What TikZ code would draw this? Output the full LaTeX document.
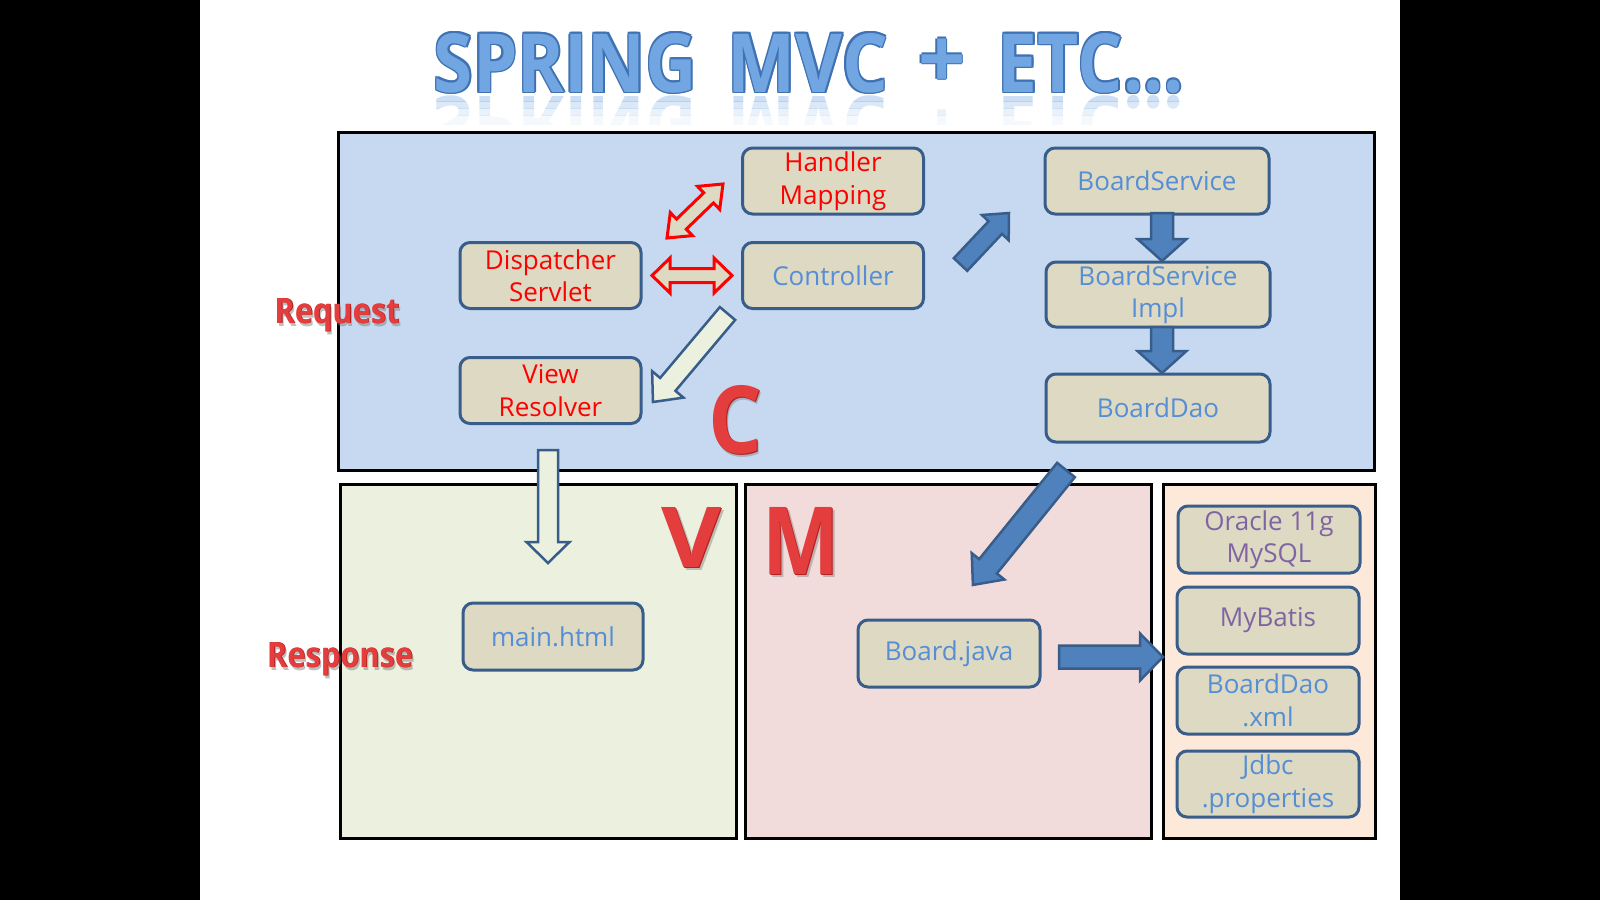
\documentclass[tikz,border=0pt]{standalone}
\usepackage{fontspec}
\setmainfont{Open Sans}
\usepackage{graphicx}
\definecolor{boxblue}{HTML}{C6D9F1}
\definecolor{boxgreen}{HTML}{EBF1DE}
\definecolor{boxpink}{HTML}{F2DCDB}
\definecolor{boxpeach}{HTML}{FDE9D9}
\definecolor{nodefill}{HTML}{DDD9C3}
\definecolor{nodeedge}{HTML}{385D8A}
\definecolor{txtblue}{HTML}{558ED5}
\definecolor{txtred}{HTML}{FF0000}
\definecolor{txtpurple}{HTML}{8064A2}
\definecolor{arrowblue}{HTML}{4F81BD}
\definecolor{lightfill}{HTML}{EBF1DE}
\definecolor{titleblue}{HTML}{72A6E2}
\definecolor{titleedge}{HTML}{3F72B3}
\definecolor{letterred}{HTML}{E33D3D}
\definecolor{letteredge}{HTML}{B52020}
% block arrow: style, x, y, angle, length, half shaft, half head, head length
\newcommand\blockarrow[8]{%
  \draw[#1,shift={(#2,#3)},rotate=#4] (0,-#6) -- ({#5-#8},-#6) -- ({#5-#8},-#7) -- (#5,0)
    -- ({#5-#8},#7) -- ({#5-#8},#6) -- (0,#6) -- cycle;}
\newcommand\dblarrow[8]{%
  \draw[#1,shift={(#2,#3)},rotate=#4] (0,0) -- (#8,-#7) -- (#8,-#6) -- ({#5-#8},-#6) -- ({#5-#8},-#7)
    -- (#5,0) -- ({#5-#8},#7) -- ({#5-#8},#6) -- (#8,#6) -- (#8,#7) -- cycle;}
% title words: text, width
\newcommand\ttlword[2]{\resizebox{#2pt}{59pt}{\bfseries #1}}
\newcommand\ttlplus{{\fontsize{83}{83}\selectfont\bfseries +}}
\begin{document}
\begin{tikzpicture}[x=1pt,y=-1pt,
  region/.style={draw=black,line width=3pt},
  comp/.style={draw=nodeedge,line width=3pt,fill=nodefill,rounded corners=10pt,
    minimum width=181pt,minimum height=66pt,inner sep=0pt,align=center,
    font=\fontsize{26}{32.5}\selectfont},
  bluearrow/.style={fill=arrowblue,draw=nodeedge,line width=2.5pt},
  lightarrow/.style={fill=lightfill,draw=nodeedge,line width=2.5pt},
  redarrow/.style={fill=nodefill,draw=txtred,line width=3pt},
  bigletter/.style={inner sep=0pt,anchor=base},
]
\useasboundingbox (0,0) rectangle (1600,900);
\fill[black] (0,0) rectangle (200,900);
\fill[black] (1400,0) rectangle (1600,900);
\fill[white] (200,0) rectangle (1400,900);

% title (words placed separately)
\foreach \tword/\cx/\ww in {SPRING/565.5/263,MVC/808/160,{ETC...}/1091/186}{
  \foreach \dx/\dy in {-1.5/0,1.5/0,0/-1.5,0/1.5,1.2/1.2,-1.2/-1.2,1.2/-1.2,-1.2/1.2}
    \node[bigletter,text=titleedge] at ({\cx+\dx},{92+\dy}) {\ttlword{\tword}{\ww}};
  \node[bigletter,text=titleblue] at (\cx,92) {\ttlword{\tword}{\ww}};
  \foreach \ya/\yb/\op in {94/101/0.35,101/108/0.25,108/115/0.15,115/124/0.07}{
    \begin{scope}
      \clip (420,\ya) rectangle (1200,\yb);
      \node[bigletter,text=titleblue,opacity=\op] at (\cx,96) {\scalebox{1}[-1]{\ttlword{\tword}{\ww}}};
    \end{scope}}
}
\foreach \dx/\dy in {-1.5/0,1.5/0,0/-1.5,0/1.5}
  \node[bigletter,text=titleedge] at ({942+\dx},{88+\dy}) {\ttlplus};
\node[bigletter,text=titleblue] (title) at (942,88) {\ttlplus};
\foreach \ya/\yb/\op in {94/101/0.35,101/108/0.25,108/115/0.15,115/124/0.07}{
  \begin{scope}
    \clip (420,\ya) rectangle (1200,\yb);
    \node[bigletter,text=titleblue,opacity=\op] at (942,100) {\scalebox{1}[-1]{\ttlplus}};
  \end{scope}}

% regions
\draw[region,fill=boxblue] (338,132) rectangle (1374,470);
\draw[region,fill=boxgreen] (340,484) rectangle (736,838);
\draw[region,fill=boxpink] (745,484) rectangle (1151,838);
\draw[region,fill=boxpeach] (1163,484) rectangle (1375,838);

% side labels
\foreach \lbl/\x/\y/\w in {Request/337/323/125,Response/340/667/146}{
  \node[bigletter,text=gray,opacity=0.5] at ({\x+2},{\y+3}) {\resizebox{\w pt}{25pt}{\bfseries \lbl}};
  \node[bigletter,text=letteredge] at ({\x+0.8},{\y+0.8}) {\resizebox{\w pt}{25pt}{\bfseries \lbl}};
  \node[bigletter,text=letterred] at (\x,\y) {\resizebox{\w pt}{25pt}{\bfseries \lbl}};
}

% C V M letters
\foreach \lt/\x/\y/\w/\h in {C/735/453/54/68,V/692/567/60/60,M/801.5/574/77/67}{
  \node[bigletter,text=gray,opacity=0.45] at ({\x+2.5},{\y+3}) {\resizebox{\w pt}{\h pt}{\bfseries \lt}};
  \node[bigletter,text=letteredge] at ({\x+1},{\y+1}) {\resizebox{\w pt}{\h pt}{\bfseries \lt}};
  \node[bigletter,text=letterred] at (\x,\y) {\resizebox{\w pt}{\h pt}{\bfseries \lt}};
}

% component nodes
\node[comp,text=txtred] (handler) at (833,181) {Handler\\Mapping};
\node[comp,text=txtred] (dispatcher) at (550.5,275.5) {Dispatcher\\Servlet};
\node[comp,text=txtblue] (controller) at (833,275.5) {Controller};
\node[comp,text=txtred] (viewres) at (550.5,390.5) {View\\Resolver};
\node[comp,text=txtblue,minimum width=224pt] (bsvc) at (1157,181) {BoardService};
\node[comp,text=txtblue,minimum width=224pt,minimum height=65pt] (bsvcimpl) at (1158,294.5) {BoardService\\Impl};
\node[comp,text=txtblue,minimum width=224pt,minimum height=68pt] (bdao) at (1158,408) {BoardDao};
\node[comp,text=txtblue,minimum width=180pt,minimum height=67pt] (mainhtml) at (553,636.5) {main.html};
\node[comp,text=txtblue,minimum width=182pt,minimum height=67pt] (boardjava) at (949,653.5) {Board.java};
\node[comp,text=txtpurple,minimum width=182pt,minimum height=67pt] (oracle) at (1269,539.5) {Oracle 11g\\MySQL};
\node[comp,text=txtpurple,minimum width=182pt,minimum height=67pt] (mybatis) at (1268,620.5) {MyBatis};
\node[comp,text=txtblue,minimum width=182pt,minimum height=67pt] (daoxml) at (1268,700.5) {BoardDao\\.xml};
\node[comp,text=txtblue,minimum width=182pt,minimum height=66pt] (jdbc) at (1268,784) {Jdbc\\.properties};

% arrows
\dblarrow{redarrow}{667}{238}{43.96}{77.8}{7}{16}{20}
\dblarrow{redarrow}{652}{275.5}{0}{80}{7}{17.5}{18}
\blockarrow{lightarrow}{727.5}{313.5}{-130.1}{115.7}{10}{20.5}{23}
\blockarrow{bluearrow}{960.5}{264.5}{46.7}{70.7}{9.2}{18.4}{20}
\blockarrow{bluearrow}{1162}{213}{-90}{48}{11}{24.5}{22}
\blockarrow{bluearrow}{1162}{327}{-90}{46}{11}{24.5}{22}
\blockarrow{bluearrow}{1066}{470}{-129.0}{147.9}{11.4}{21}{24}
\blockarrow{bluearrow}{1059}{657}{0}{104}{11.5}{23.5}{23}
\blockarrow{lightarrow}{548}{450}{-90}{113}{10}{21.5}{21}
\end{tikzpicture}
\end{document}
